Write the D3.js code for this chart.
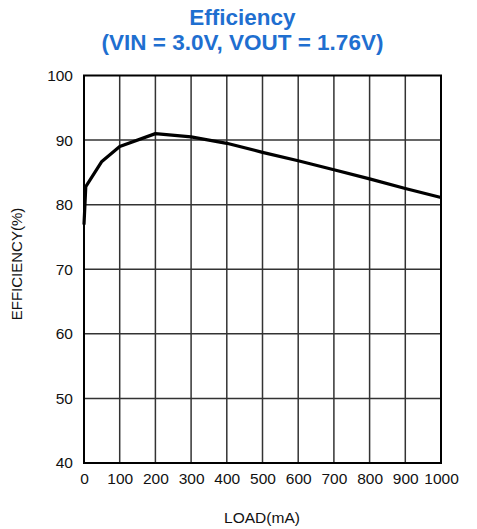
<!DOCTYPE html>
<html><head><meta charset="utf-8">
<script src="https://cdn.jsdelivr.net/npm/d3@7"></script>
<style>body{margin:0;background:#fff;}svg{display:block;font-family:Arial,"Liberation Sans",Helvetica,sans-serif;}</style>
</head><body>
<script>
const titleLines = ["Efficiency", "(VIN = 3.0V, VOUT = 1.76V)"];
const xLabel = "LOAD(mA)";
const yLabel = "EFFICIENCY(%)";
const loads = [0, 5, 50, 100, 200, 300, 400, 500, 600, 700, 800, 900, 1000];
const efficiency = [76.9, 82.8, 86.7, 89.0, 91.0, 90.5, 89.5, 88.1, 86.8, 85.4, 84.0, 82.5, 81.1];
const xTicks = [0, 100, 200, 300, 400, 500, 600, 700, 800, 900, 1000];
const yTicks = [40, 50, 60, 70, 80, 90, 100];

const W = 477, H = 529;
const m = {left: 84, right: 36, top: 75.5, bottom: 66};
const svg = d3.select("body").append("svg").attr("width", W).attr("height", H);

const x = d3.scaleLinear().domain([0, 1000]).range([m.left, W - m.right]);
const y = d3.scaleLinear().domain([40, 100]).range([H - m.bottom, m.top]);

// title
svg.append("g").selectAll("text").data(titleLines).join("text")
  .attr("x", 242.5).attr("y", (d, i) => 24.5 + i * 25)
  .attr("text-anchor", "middle").attr("font-size", 22.5).attr("font-weight", "bold")
  .attr("fill", "#1f6fd0").text(d => d);

// grid
const grid = svg.append("g").attr("stroke", "#333").attr("stroke-width", 1.5);
grid.selectAll("line.v").data(xTicks.slice(1, -1)).join("line")
  .attr("x1", d => x(d)).attr("x2", d => x(d)).attr("y1", y(100)).attr("y2", y(40));
grid.selectAll("line.h").data(yTicks.slice(1, -1)).join("line")
  .attr("x1", x(0)).attr("x2", x(1000)).attr("y1", d => y(d)).attr("y2", d => y(d));

// axes (labels only)
const xAxis = d3.axisBottom(x).tickValues(xTicks).tickSize(0).tickPadding(10).tickFormat(d3.format("d"));
const gx = svg.append("g").attr("transform", `translate(0,${y(40)})`).call(xAxis);
gx.select(".domain").remove();
gx.selectAll("text").attr("font-size", 15.5).attr("fill", "#111").attr("font-family", "Arial, 'Liberation Sans', sans-serif");

const yAxis = d3.axisLeft(y).tickValues(yTicks).tickSize(0).tickPadding(11).tickFormat(d3.format("d"));
const gy = svg.append("g").attr("transform", `translate(${x(0)},0)`).call(yAxis);
gy.select(".domain").remove();
gy.selectAll("text").attr("font-size", 15.5).attr("fill", "#111").attr("font-family", "Arial, 'Liberation Sans', sans-serif");

// frame
svg.append("rect").attr("x", x(0)).attr("y", y(100)).attr("width", x(1000) - x(0)).attr("height", y(40) - y(100))
  .attr("fill", "none").attr("stroke", "#000").attr("stroke-width", 2);

// curve
const data = loads.map((l, i) => [l, efficiency[i]]);
svg.append("path").datum(data)
  .attr("d", d3.line().x(d => x(d[0])).y(d => y(d[1])))
  .attr("fill", "none").attr("stroke", "#000").attr("stroke-width", 3.2).attr("stroke-linejoin", "round");

// axis titles
svg.append("text").attr("x", 262).attr("y", 523).attr("text-anchor", "middle")
  .attr("font-size", 15.5).attr("fill", "#111").text(xLabel);
svg.append("text").attr("transform", "translate(22,264) rotate(-90)").attr("text-anchor", "middle")
  .attr("font-size", 15).attr("fill", "#111").text(yLabel);
</script>
</body></html>
